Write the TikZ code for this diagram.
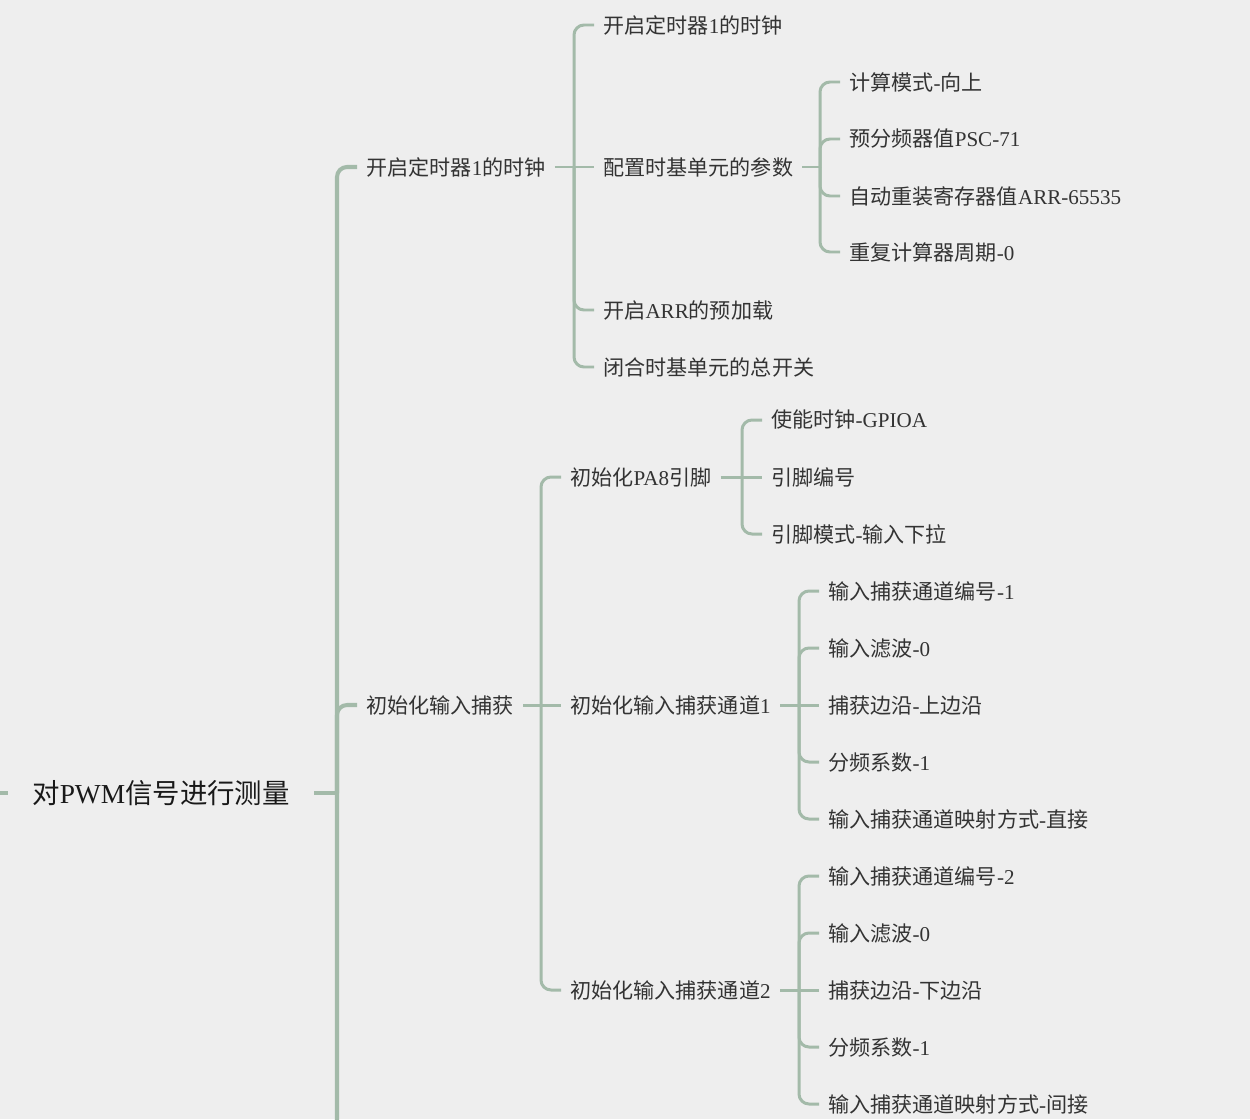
\documentclass[tikz,border=0pt]{standalone}
\usepackage{fontspec}
\setmainfont{Noto Sans CJK SC}
\newfontfamily\en{Liberation Serif}
\usetikzlibrary{calc}
\definecolor{bg}{RGB}{238,238,238}
\definecolor{branch}{RGB}{163,186,169}
\definecolor{ink}{RGB}{51,51,51}

\begin{document}
\begin{tikzpicture}[
    x=0.02cm,y=-0.02cm,
    every node/.style={font=\fontsize{12}{14}\selectfont,text=ink,anchor=west,inner xsep=0.18cm,inner ysep=0pt},
    rootbox/.style={font=\fontsize{15.6}{18}\selectfont,text=black!90,inner xsep=0.48cm},
    link/.style={draw=branch,line width=1.7pt,rounded corners=0.2cm},
    trunk/.style={link,line width=2.3pt}
]
\path[use as bounding box,fill=bg] (0,0) rectangle (1250,1119);

% root and first level
\node[rootbox] (r) at (8,793) {对{\en PWM}信号进行测量};
\node (a) at (357,167) {开启定时器{\en 1}的时钟};
\node (b) at (357,705) {初始化输入捕获};

% timer clock branch
\node (a1) at (594,25) {开启定时器{\en 1}的时钟};
\node (a2) at (594,167) {配置时基单元的参数};
\node (a3) at (594,310) {开启{\en ARR}的预加载};
\node (a4) at (594,367) {闭合时基单元的总开关};
\node (a21) at (840,82) {计算模式{\en -}向上};
\node (a22) at (840,139) {预分频器值{\en PSC-71}};
\node (a23) at (840,196) {自动重装寄存器值{\en ARR-65535}};
\node (a24) at (840,252) {重复计算器周期{\en -0}};

% input capture branch
\node (b1) at (561,477) {初始化{\en PA8}引脚};
\node (b2) at (561,705) {初始化输入捕获通道{\en 1}};
\node (b3) at (561,990) {初始化输入捕获通道{\en 2}};
\node (b11) at (762,420) {使能时钟{\en -GPIOA}};
\node (b12) at (762,477) {引脚编号};
\node (b13) at (762,534) {引脚模式{\en -}输入下拉};
\node (b21) at (819,591) {输入捕获通道编号{\en -1}};
\node (b22) at (819,648) {输入滤波{\en -0}};
\node (b23) at (819,705) {捕获边沿{\en -}上边沿};
\node (b24) at (819,762) {分频系数{\en -1}};
\node (b25) at (819,819) {输入捕获通道映射方式{\en -}直接};
\node (b31) at (819,876) {输入捕获通道编号{\en -2}};
\node (b32) at (819,933) {输入滤波{\en -0}};
\node (b33) at (819,990) {捕获边沿{\en -}下边沿};
\node (b34) at (819,1047) {分频系数{\en -1}};
\node (b35) at (819,1104) {输入捕获通道映射方式{\en -}间接};

% root trunk, runs on past the bottom edge
\coordinate (up) at (-6,793);
\coordinate (more) at (337,1130);
\draw[link,line width=2pt] (up) -- (r.west);
\draw[link,line width=2pt] (r.east) -- ([xshift=-0.4cm]a.west |- r.east);
\draw[trunk] ([xshift=-0.4cm]a.west |- r.east) -- (more);
\foreach \c in {a,b}
    \draw[trunk] ([xshift=-0.4cm]\c.west |- r.east) |- (\c.west);

% brackets, the child level with its parent gets a straight line
\draw[link] (a.east) -- (a2.west);
\foreach \c in {a1,a3,a4}
    \draw[link] ([xshift=-0.4cm]\c.west |- a.east) |- (\c.west);
\draw[link] (a2.east) -- ([xshift=-0.4cm]a21.west |- a2.east);
\foreach \c in {a21,a22,a23,a24}
    \draw[link] ([xshift=-0.4cm]\c.west |- a2.east) |- (\c.west);
\draw[link] (b.east) -- (b2.west);
\foreach \c in {b1,b3}
    \draw[link] ([xshift=-0.4cm]\c.west |- b.east) |- (\c.west);
\draw[link] (b1.east) -- (b12.west);
\foreach \c in {b11,b13}
    \draw[link] ([xshift=-0.4cm]\c.west |- b1.east) |- (\c.west);
\draw[link] (b2.east) -- (b23.west);
\foreach \c in {b21,b22,b24,b25}
    \draw[link] ([xshift=-0.4cm]\c.west |- b2.east) |- (\c.west);
\draw[link] (b3.east) -- (b33.west);
\foreach \c in {b31,b32,b34,b35}
    \draw[link] ([xshift=-0.4cm]\c.west |- b3.east) |- (\c.west);
\end{tikzpicture}
\end{document}
